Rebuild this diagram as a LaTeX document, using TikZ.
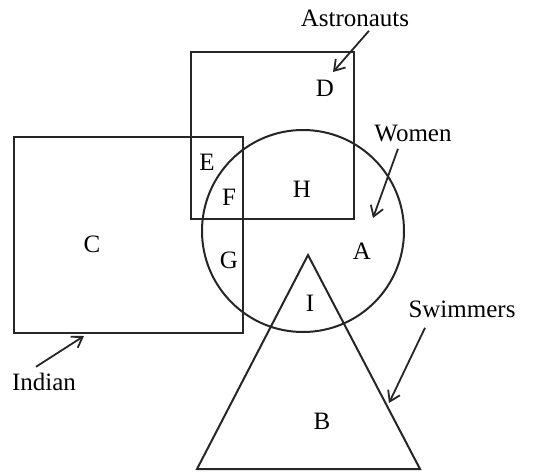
\documentclass[tikz,border=0pt]{standalone}
\usepackage{fontspec}
\setmainfont{Liberation Serif}
\usetikzlibrary{arrows.meta}

\begin{document}
\begin{tikzpicture}[x=0.5pt, y=-0.5pt,
  set/.style={draw=black!85, line width=1pt},
  lbl/.style={font=\fontsize{12.5}{15}\selectfont, inner sep=1pt},
  arr/.style={-{Straight Barb[length=5pt, width=6.5pt]}, draw=black!85, line width=0.9pt}]
\useasboundingbox (0,0) rectangle (535,471);
% the four sets
\draw[set] (191,52) rectangle (354,219);
\draw[set] (14,137) rectangle (243,333);
\draw[set] (303,231) circle[radius=101];
\draw[set] (308,255) -- (197,469) -- (420,469) -- cycle;
% regions
\foreach \n/\x/\y in {D/325/88, E/207/162, F/229/197, H/302/189, C/92/244,
                      G/229/260, A/362/251, I/310/303, B/322/421}
  \node[lbl] (r\n) at (\x,\y) {\n};
% set names
\node[lbl] (astro) at (355,18) {Astronauts};
\node[lbl] (women) at (413,134) {Women};
\node[lbl] (swim) at (462,309) {Swimmers};
\node[lbl] (indian) at (44,382) {Indian};
\coordinate (astroTip) at (333,72);
\coordinate (womenTip) at (373,218);
\coordinate (swimTip) at (389,403);
\coordinate (indianTip) at (84,336);
\draw[arr] (astro.south) ++(14,2) -- (astroTip);
\draw[arr] (women.south) ++(-15,4) -- (womenTip);
\draw[arr] (swim.south) ++(-37,8) -- (swimTip);
\draw[arr] (indian.north) ++(-8,-4) -- (indianTip);
\end{tikzpicture}
\end{document}
